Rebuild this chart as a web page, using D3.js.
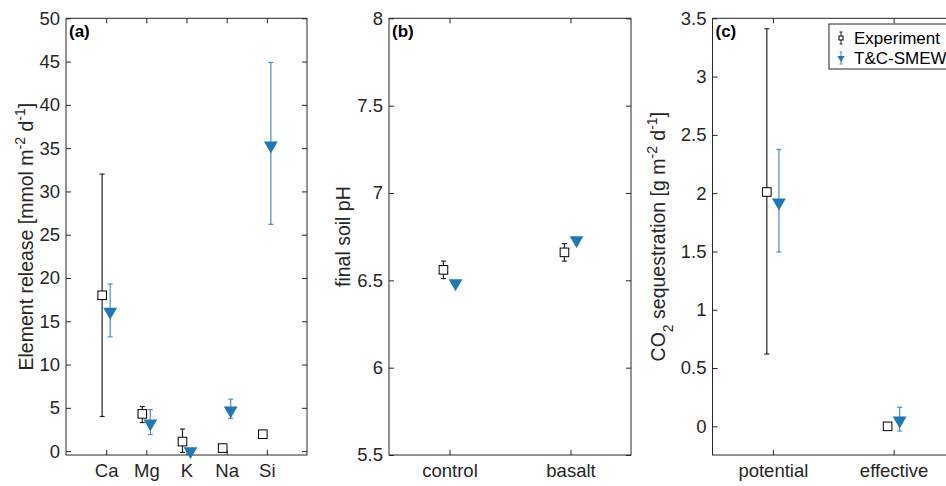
<!DOCTYPE html>
<html lang="en">
<head>
<meta charset="UTF-8" />
<title>Element release, soil pH and CO2 sequestration</title>
<script src="https://d3js.org/d3.v7.min.js"></script>
<style>
  body { margin: 0; background: #fff; }
  svg { display: block; font-family: "Liberation Sans", Arial, sans-serif; }
  .tick text { fill: #262626; font-size: 18.5px; }
  .axislab { fill: #262626; font-size: 19.5px; }
</style>
</head>
<body>
<svg id="chart" width="946" height="486"></svg>
<script>
// ---- data ----
const elements = ["Ca", "Mg", "K", "Na", "Si"];
const elemExp = [18.0, 4.3, 1.1, 0.35, 1.95];
const elemExpLo = [4.0, 3.3, -0.15, 0.1, 1.6];
const elemExpHi = [32.0, 5.15, 2.55, 0.6, 2.3];
const elemMod = [16.1, 3.2, 0.0, 4.7, 35.3];
const elemModLo = [13.2, 1.9, 0.0, 3.8, 26.2];
const elemModHi = [19.3, 4.8, 0.0, 6.0, 44.9];

const phCats = ["control", "basalt"];
const phExp = [6.56, 6.66];
const phExpLo = [6.51, 6.61];
const phExpHi = [6.61, 6.71];
const phMod = [6.483, 6.73];

const co2Cats = ["potential", "effective"];
const co2Exp = [2.01, 0.0];
const co2ExpLo = [0.62, -0.01];
const co2ExpHi = [3.41, 0.01];
const co2Mod = [1.92, 0.05];
const co2ModLo = [1.495, -0.04];
const co2ModHi = [2.375, 0.163];

const blue = "#1f77b4", blueBar = "#4a8fc6", dark = "#262626";

const svg = d3.select("#chart");

function panel(opt) {
  const g = svg.append("g");
  const x = d3.scaleLinear().domain(opt.xdom).range([opt.left, opt.right]);
  const y = d3.scaleLinear().domain(opt.ydom).range([455, 18.3]);
  const cats = opt.cats;

  // box
  g.append("rect")
    .attr("x", opt.left).attr("y", 18.3)
    .attr("width", opt.right - opt.left).attr("height", 455 - 18.3)
    .attr("fill", "none").attr("stroke", dark).attr("stroke-width", 1);

  const xt = cats.map((c, i) => i + 1);
  // bottom axis
  g.append("g").attr("transform", "translate(0,455)")
    .call(d3.axisBottom(x).tickValues(xt).tickFormat((d, i) => cats[i]).tickSizeInner(-5).tickSizeOuter(0).tickPadding(9))
    .call(a => a.select(".domain").remove())
    .call(a => a.selectAll("line").attr("stroke", dark));
  // top ticks
  g.append("g").attr("transform", "translate(0,18.3)")
    .call(d3.axisTop(x).tickValues(xt).tickFormat("").tickSizeInner(-5).tickSizeOuter(0))
    .call(a => a.select(".domain").remove())
    .call(a => a.selectAll("line").attr("stroke", dark));
  // left axis
  g.append("g").attr("transform", `translate(${opt.left},0)`)
    .call(d3.axisLeft(y).tickValues(opt.yticks).tickFormat(d3.format("~g")).tickSizeInner(-5).tickSizeOuter(0).tickPadding(6))
    .call(a => a.select(".domain").remove())
    .call(a => a.selectAll("line").attr("stroke", dark));
  // right ticks
  g.append("g").attr("transform", `translate(${opt.right},0)`)
    .call(d3.axisRight(y).tickValues(opt.yticks).tickFormat("").tickSizeInner(-5).tickSizeOuter(0))
    .call(a => a.select(".domain").remove())
    .call(a => a.selectAll("line").attr("stroke", dark));

  // panel label
  g.append("text").attr("x", opt.left + 3).attr("y", 37)
    .attr("font-size", 17).attr("font-weight", "bold").attr("fill", "#000")
    .text(opt.label);

  // y label
  const yl = g.append("text").attr("class", "axislab")
    .attr("transform", `translate(${opt.ylabX},${(455 + 18.3) / 2}) rotate(-90)`)
    .attr("text-anchor", "middle");
  opt.ylab(yl);

  function errBars(vals, lo, hi, off, color, cap) {
    const d = vals.map((v, i) => ({ x: i + 1 + off, lo: lo[i], hi: hi[i] }))
      .filter(e => e.hi > e.lo);
    g.selectAll(null).data(d).join("line")
      .attr("x1", e => x(e.x)).attr("x2", e => x(e.x))
      .attr("y1", e => y(e.lo)).attr("y2", e => y(e.hi))
      .attr("stroke", color).attr("stroke-width", 1.2);
    ["lo", "hi"].forEach(k => {
      g.selectAll(null).data(d).join("line")
        .attr("x1", e => x(e.x) - cap).attr("x2", e => x(e.x) + cap)
        .attr("y1", e => y(e[k])).attr("y2", e => y(e[k]))
        .attr("stroke", color).attr("stroke-width", 1.2);
    });
  }

  // experiment
  if (opt.expLo) errBars(opt.exp, opt.expLo, opt.expHi, -opt.off, dark, 2.5);
  g.selectAll(null).data(opt.exp).join("rect")
    .attr("x", (v, i) => x(i + 1 - opt.off) - 4.3)
    .attr("y", v => y(v) - 4.3)
    .attr("width", 8.6).attr("height", 8.6)
    .attr("fill", "#fff").attr("stroke", "#000").attr("stroke-width", 1);

  // model
  if (opt.modLo) errBars(opt.mod, opt.modLo, opt.modHi, opt.off, blueBar, 2.5);
  const tri = d3.symbol(d3.symbolTriangle, 82);
  g.selectAll(null).data(opt.mod).join("path")
    .attr("d", tri)
    .attr("transform", (v, i) => `translate(${x(i + 1 + opt.off)},${y(v)}) rotate(180)`)
    .attr("fill", blue);
  return g;
}

function supLabel(t, parts) {
  parts.forEach(p => {
    const s = t.append("tspan").text(p.t);
    if (p.sup) s.attr("baseline-shift", "super").attr("font-size", 14);
    if (p.sub) s.attr("baseline-shift", "sub").attr("font-size", 14);
  });
}

panel({
  left: 66, right: 307, xdom: [0, 6], ydom: [-0.45, 50],
  cats: elements, yticks: d3.range(0, 51, 5), label: "(a)", off: 0.1,
  exp: elemExp, expLo: elemExpLo, expHi: elemExpHi,
  mod: elemMod, modLo: elemModLo, modHi: elemModHi,
  ylabX: 33,
  ylab: t => supLabel(t, [{ t: "Element release [mmol m" }, { t: "-2", sup: true }, { t: " d" }, { t: "-1", sup: true }, { t: "]" }])
});

panel({
  left: 389, right: 631, xdom: [0.5, 2.5], ydom: [5.5, 8],
  cats: phCats, yticks: [5.5, 6, 6.5, 7, 7.5, 8], label: "(b)", off: 0.05,
  exp: phExp, expLo: phExpLo, expHi: phExpHi,
  mod: phMod,
  ylabX: 350,
  ylab: t => t.text("final soil pH")
});

panel({
  left: 712.5, right: 954, xdom: [0.5, 2.5], ydom: [-0.246, 3.5],
  cats: co2Cats, yticks: [0, 0.5, 1, 1.5, 2, 2.5, 3, 3.5], label: "(c)", off: 0.05,
  exp: co2Exp, expLo: co2ExpLo, expHi: co2ExpHi,
  mod: co2Mod, modLo: co2ModLo, modHi: co2ModHi,
  ylabX: 665,
  ylab: t => supLabel(t, [{ t: "CO" }, { t: "2", sub: true }, { t: " sequestration [g m" }, { t: "-2", sup: true }, { t: " d" }, { t: "-1", sup: true }, { t: "]" }])
});

// legend
const leg = svg.append("g");
leg.append("rect").attr("x", 829).attr("y", 24).attr("width", 130).attr("height", 45)
  .attr("fill", "#fff").attr("stroke", dark).attr("stroke-width", 1);
const legItems = [
  { name: "Experiment", y: 38, color: dark, kind: "sq" },
  { name: "T&C-SMEW", y: 58, color: blueBar, kind: "tri" }
];
legItems.forEach(it => {
  leg.append("line").attr("x1", 841).attr("x2", 841).attr("y1", it.y - 6).attr("y2", it.y + 6)
    .attr("stroke", it.color).attr("stroke-width", 1);
  [it.y - 6, it.y + 6].forEach(yy => leg.append("line")
    .attr("x1", 839.5).attr("x2", 842.5).attr("y1", yy).attr("y2", yy)
    .attr("stroke", it.color).attr("stroke-width", 1));
  if (it.kind === "sq") {
    leg.append("rect").attr("x", 839).attr("y", it.y - 2).attr("width", 4).attr("height", 4)
      .attr("fill", "#fff").attr("stroke", "#000").attr("stroke-width", 1);
  } else {
    leg.append("path").attr("d", d3.symbol(d3.symbolTriangle, 22))
      .attr("transform", `translate(841,${it.y}) rotate(180)`).attr("fill", blue);
  }
  leg.append("text").attr("x", 854).attr("y", it.y + 6).attr("font-size", 17)
    .attr("fill", "#000").text(it.name);
});
</script>
</body>
</html>
